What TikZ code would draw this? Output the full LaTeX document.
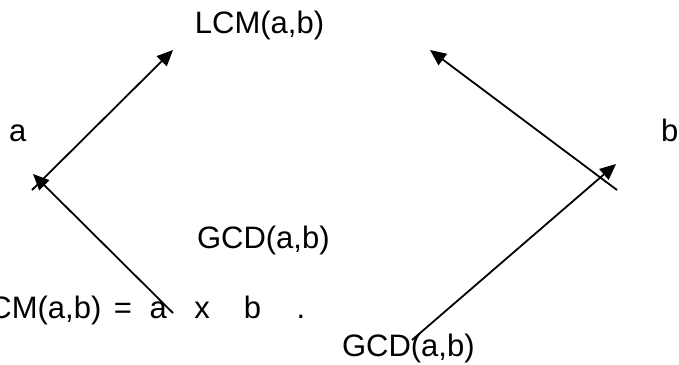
\documentclass[tikz,border=0pt]{standalone}
\usepackage{fontspec}
\setmainfont{Liberation Sans}
\usepackage{tikz}
\usetikzlibrary{arrows.meta}
\tikzstyle{arrow} = [line width=1.8pt,-{Triangle[length=16pt,width=14pt]}]
\tikzstyle{lbl} = [inner sep=0pt,anchor=base west,font=\fontsize{31}{37}\selectfont]

\begin{document}
\begin{tikzpicture}[x=1pt,y=-1pt]
    \useasboundingbox (0,0) rectangle (679,364);
    % labels
    \node[lbl] (lcm) at (194.7,33) {LCM(a,b)};
    \node[lbl] (a) at (9,141.5) {a};
    \node[lbl] (b) at (661,141.5) {b};
    \node[lbl] (gcd) at (196.8,248) {GCD(a,b)};
    \node[lbl] (eq) at (-28,318) {LCM(a,b)\hspace{12.5pt}=\hspace{17.7pt}a\hspace{27.5pt}x\hspace{34pt}b\hspace{35.4pt}.};
    \node[lbl] (gcdlow) at (341.8,356) {GCD(a,b)};
    % arrow ends
    \coordinate (la) at (32,190);
    \coordinate (lt) at (173,50);
    \coordinate (ma) at (173,313);
    \coordinate (mt) at (33,174);
    \coordinate (ra) at (617,190);
    \coordinate (rt) at (430,50);
    \coordinate (na) at (412,340);
    \coordinate (nt) at (616,164);
    % arrows
    \draw[arrow] (la) -- (lt);
    \draw[arrow] (ma) -- (mt);
    \draw[arrow] (ra) -- (rt);
    \draw[arrow] (na) -- (nt);
\end{tikzpicture}
\end{document}
